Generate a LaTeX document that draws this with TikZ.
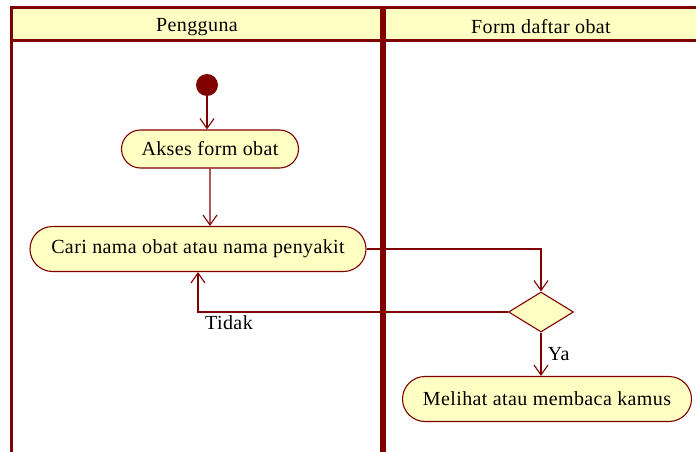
\documentclass[tikz,border=0pt]{standalone}
\usepackage{fontspec}
\setmainfont{Liberation Serif}[LetterSpace=2]
\usetikzlibrary{arrows.meta, positioning, shapes.geometric, shapes.misc}

\definecolor{umlred}{RGB}{128,0,0}
\definecolor{umlfill}{RGB}{255,255,196}

\begin{document}
\begin{tikzpicture}[x=1pt, y=-1pt, >={Straight Barb[length=10pt,width=14pt]},
    font=\fontsize{20}{22}\selectfont]
\tikzset{
    lane/.style={draw=umlred, line width=3pt},
    lanehead/.style={lane, fill=umlfill},
    action/.style={draw=umlred, fill=umlfill, line width=1.1pt, rounded rectangle, inner sep=0pt},
    startnode/.style={circle, fill=umlred, minimum size=22pt, inner sep=0pt},
    decision/.style={diamond, draw=umlred, fill=umlfill, line width=1.1pt, minimum width=65pt, minimum height=40pt, inner sep=0pt},
    flow/.style={->, draw=umlred, line width=1.1pt},
}
\useasboundingbox (0,0) rectangle (696,452);
% swimlanes
\draw[lanehead] (11,8) rectangle (381,41);
\draw[lanehead] (384,8) rectangle (712,41);
\draw[lane] (11,41) -- (11,462);
\draw[lane] (381,41) -- (381,462);
\draw[lane] (384,41) -- (384,462);
\node (lane_user) at (197,27) {Pengguna};
\node (lane_form) at (541,27) {Form daftar obat};
% activities
\node (start) [startnode] at (207,85) {};
\node (akses) [action, minimum width=177pt, minimum height=38pt] at (210,149) {Akses form obat};
\node (cari) [action, minimum width=336pt, minimum height=45pt] at (198,249) {Cari nama obat atau nama penyakit};
\node (cek) [decision] at (541,312) {};
\node (lihat) [action, minimum width=289pt, minimum height=45pt] at (547,399) {Melihat atau membaca kamus};
% flows
\draw[flow] (start) -- (start |- akses.north);
\draw[flow] (akses) -- (akses |- cari.north);
\draw[flow] (cari.east) -- (cari.east -| cek.north) -- (cek.north);
\draw[flow] (cek.west) -| node[pos=0.45, below] {Tidak} (cari.south);
\draw[flow] (cek.south) -- node[right, xshift=3pt] {Ya} (cek.south |- lihat.north);
\end{tikzpicture}
\end{document}
